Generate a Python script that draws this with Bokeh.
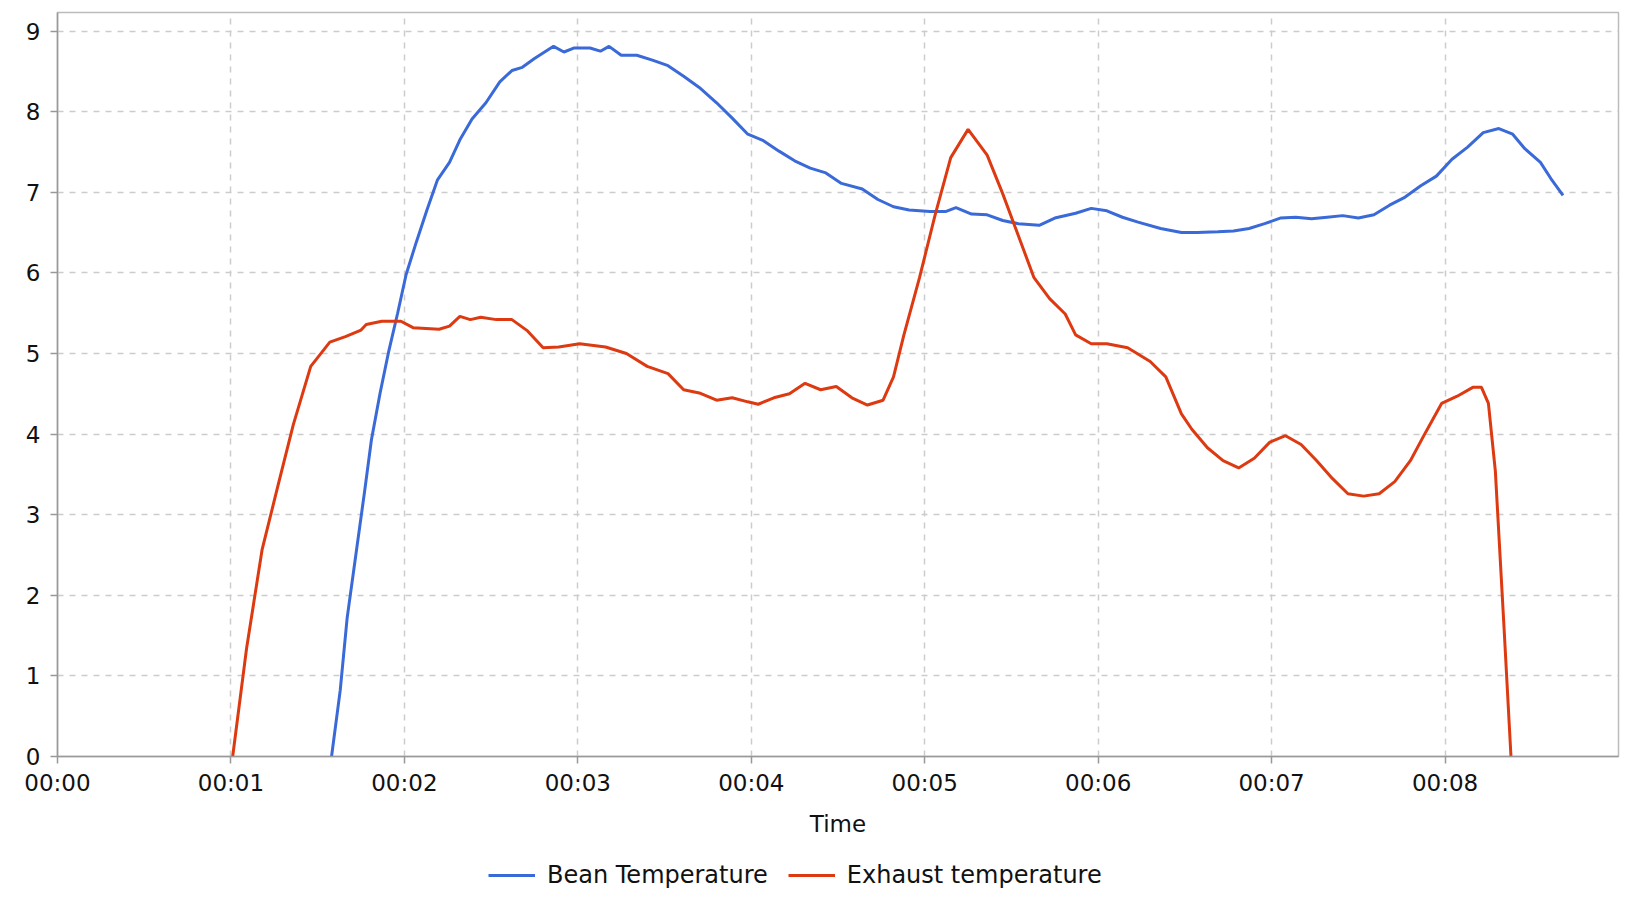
from bokeh.plotting import figure
from bokeh.models import FixedTicker, Range1d, Legend, LegendItem
from bokeh.layouts import column
from bokeh.embed import file_html
from bokeh.resources import INLINE

# ---- data (time in minutes, value) ----
bean_t = [1.58, 1.63, 1.67, 1.72, 1.77, 1.81, 1.86, 1.91, 1.96, 2.01, 2.07, 2.13, 2.19, 2.26,
          2.32, 2.39, 2.47, 2.55, 2.62, 2.68, 2.75, 2.86, 2.92, 2.98, 3.07, 3.13, 3.18, 3.25,
          3.34, 3.43, 3.52, 3.61, 3.70, 3.80, 3.89, 3.98, 4.07, 4.16, 4.25, 4.34, 4.43, 4.52,
          4.64, 4.73, 4.82, 4.91, 5.03, 5.12, 5.18, 5.27, 5.36, 5.45, 5.54, 5.66, 5.75, 5.87,
          5.96, 6.05, 6.14, 6.23, 6.36, 6.48, 6.57, 6.69, 6.78, 6.87, 6.96, 7.05, 7.14, 7.23,
          7.32, 7.41, 7.50, 7.59, 7.68, 7.77, 7.86, 7.95, 8.04, 8.13, 8.22, 8.31, 8.39, 8.46,
          8.55, 8.61, 8.68]
bean_v = [0.0, 0.82, 1.72, 2.50, 3.28, 3.93, 4.51, 5.03, 5.49, 5.98, 6.39, 6.78, 7.15, 7.37,
          7.65, 7.91, 8.11, 8.37, 8.51, 8.55, 8.66, 8.81, 8.74, 8.79, 8.79, 8.75, 8.81, 8.70,
          8.70, 8.64, 8.57, 8.44, 8.30, 8.11, 7.92, 7.72, 7.64, 7.51, 7.39, 7.30, 7.24, 7.11,
          7.04, 6.91, 6.82, 6.78, 6.76, 6.76, 6.81, 6.73, 6.72, 6.65, 6.61, 6.59, 6.68, 6.74,
          6.80, 6.77, 6.69, 6.63, 6.55, 6.50, 6.50, 6.51, 6.52, 6.55, 6.61, 6.68, 6.69, 6.67,
          6.69, 6.71, 6.68, 6.72, 6.84, 6.94, 7.08, 7.20, 7.41, 7.56, 7.74, 7.79, 7.72, 7.54,
          7.37, 7.17, 6.96]

exhaust_t = [1.01, 1.09, 1.18, 1.27, 1.36, 1.46, 1.57, 1.66, 1.75, 1.78, 1.87, 1.98, 2.05, 2.20,
             2.26, 2.32, 2.38, 2.44, 2.53, 2.62, 2.71, 2.80, 2.89, 3.01, 3.16, 3.28, 3.40, 3.52,
             3.61, 3.70, 3.80, 3.89, 3.98, 4.04, 4.13, 4.22, 4.31, 4.40, 4.49, 4.58, 4.67, 4.76,
             4.82, 4.88, 4.97, 5.06, 5.15, 5.25, 5.36, 5.45, 5.54, 5.63, 5.72, 5.81, 5.87, 5.96,
             6.05, 6.17, 6.30, 6.39, 6.48, 6.54, 6.63, 6.72, 6.81, 6.90, 6.99, 7.08, 7.17, 7.26,
             7.35, 7.44, 7.53, 7.62, 7.71, 7.80, 7.89, 7.98, 8.07, 8.16, 8.21, 8.25, 8.29, 8.34,
             8.38]
exhaust_v = [0.0, 1.34, 2.57, 3.35, 4.12, 4.84, 5.14, 5.21, 5.29, 5.36, 5.40, 5.40, 5.32, 5.30,
             5.34, 5.46, 5.42, 5.45, 5.42, 5.42, 5.28, 5.07, 5.08, 5.12, 5.08, 5.00, 4.84, 4.75,
             4.55, 4.51, 4.42, 4.45, 4.40, 4.37, 4.45, 4.50, 4.63, 4.55, 4.59, 4.45, 4.36, 4.42,
             4.71, 5.23, 5.94, 6.72, 7.43, 7.78, 7.46, 6.98, 6.46, 5.94, 5.68, 5.49, 5.23, 5.12,
             5.12, 5.07, 4.90, 4.71, 4.25, 4.06, 3.83, 3.67, 3.58, 3.70, 3.90, 3.98, 3.87, 3.67,
             3.45, 3.26, 3.23, 3.26, 3.41, 3.67, 4.03, 4.38, 4.47, 4.58, 4.58, 4.38, 3.54, 1.60,
             0.0]

x_ticks = [0, 1, 2, 3, 4, 5, 6, 7, 8]
x_tick_labels = ["00:00", "00:01", "00:02", "00:03", "00:04", "00:05", "00:06", "00:07", "00:08"]
y_ticks = [0, 1, 2, 3, 4, 5, 6, 7, 8, 9]

series_names = ["Bean Temperature", "Exhaust temperature"]
series_colors = ["#3a6ad8", "#dd3a12"]

FONT = "DejaVu Sans"
FS = "23px"

p = figure(frame_width=1561, frame_height=744, output_backend="svg", toolbar_location=None,
           x_range=Range1d(0, 9), y_range=Range1d(0, 9.23),
           min_border_left=57, min_border_top=12, min_border_right=18, min_border_bottom=10)
p.background_fill_color = "white"
p.border_fill_color = "white"
p.outline_line_color = "#bbbbbb"
p.outline_line_width = 1.5

r_bean = p.line(bean_t, bean_v, line_color=series_colors[0], line_width=3)
r_exh = p.line(exhaust_t, exhaust_v, line_color=series_colors[1], line_width=3)

xa = p.xaxis[0]
xa.ticker = FixedTicker(ticks=x_ticks)
xa.major_label_overrides = {t: lab for t, lab in zip(x_ticks, x_tick_labels)}
xa.axis_label = "Time"
ya = p.yaxis[0]
ya.ticker = FixedTicker(ticks=y_ticks)

for ax in (xa, ya):
    ax.axis_line_color = "#999999"
    ax.axis_line_width = 1.5
    ax.major_tick_line_color = "#999999"
    ax.major_tick_line_width = 1.5
    ax.major_tick_in = 0
    ax.major_tick_out = 7
    ax.minor_tick_line_color = None
    ax.major_label_text_font = FONT
    ax.major_label_text_font_size = FS
    ax.major_label_text_color = "#111111"
    ax.axis_label_text_font = FONT
    ax.axis_label_text_font_size = FS
    ax.axis_label_text_font_style = "normal"
    ax.axis_label_text_color = "#111111"
xa.major_label_standoff = 6
xa.axis_label_standoff = 12
ya.major_label_standoff = 10

for g in (p.xgrid[0], p.ygrid[0]):
    g.grid_line_color = "#cccccc"
    g.grid_line_dash = "6 6"
    g.grid_line_width = 1.5
p.xgrid[0].ticker = FixedTicker(ticks=x_ticks)
p.ygrid[0].ticker = FixedTicker(ticks=y_ticks)

# legend strip below the chart (same series, drawn out of view so only legend glyphs show)
p2 = figure(width=1636, height=62, output_backend="svg", toolbar_location=None,
            x_axis_type=None, y_axis_type=None, x_range=Range1d(-20, -19), y_range=Range1d(-20, -19),
            min_border=0)
p2.outline_line_color = None
p2.grid.visible = False
p2.background_fill_color = "white"
p2.border_fill_color = "white"
l_bean = p2.line(bean_t, bean_v, line_color=series_colors[0], line_width=3)
l_exh = p2.line(exhaust_t, exhaust_v, line_color=series_colors[1], line_width=3)
legend = Legend(items=[LegendItem(label=series_names[0], renderers=[l_bean]),
                       LegendItem(label=series_names[1], renderers=[l_exh])],
                orientation="horizontal", location=(431, 12),
                label_text_font=FONT, label_text_font_size="24px", label_text_color="#111111",
                glyph_width=47, glyph_height=20, label_standoff=12, spacing=20,
                padding=0, margin=0, border_line_color=None, background_fill_alpha=0)
p2.add_layout(legend, "center")

open("out.html", "w").write(file_html(column(p, p2, spacing=0), INLINE))
